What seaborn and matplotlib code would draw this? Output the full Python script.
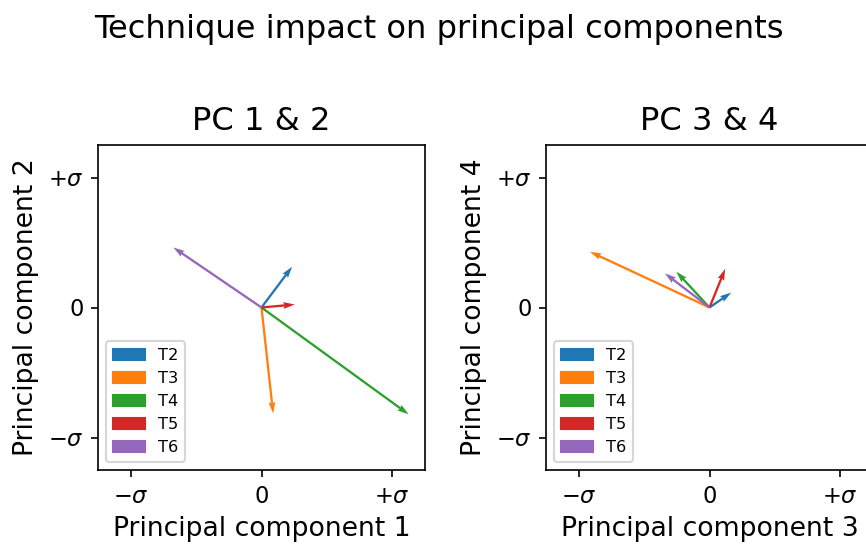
import matplotlib
matplotlib.use("Agg")
import matplotlib.pyplot as plt
import matplotlib.patches as mpatches
import seaborn as sns
import numpy as np

techniques = ["T2", "T3", "T4", "T5", "T6"]
# loadings in units of sigma
pc1 = [0.234, 0.089, 1.125, 0.254, -0.674]
pc2 = [0.314, -0.815, -0.822, 0.023, 0.462]
pc3 = [0.166, -0.914, -0.254, 0.120, -0.341]
pc4 = [0.115, 0.429, 0.276, 0.297, 0.263]
tick_vals = [-1, 0, 1]
tick_labels = [r"$-\sigma$", "0", r"$+\sigma$"]

colors = sns.color_palette("tab10", len(techniques))

fig = plt.figure(figsize=(866 / 150, 549 / 150), dpi=150)
fig.suptitle("Technique impact on principal components", fontsize=15.4,
             x=0.5064, y=0.975)

panels = [
    (pc1, pc2, "PC 1 & 2", "Principal component 1", "Principal component 2", 98),
    (pc3, pc4, "PC 3 & 4", "Principal component 3", "Principal component 4", 546),
]

for xs, ys, title, xl, yl, left_px in panels:
    ax = fig.add_axes([left_px / 866, (549 - 470) / 549, 327 / 866, 325 / 549])
    for i, t in enumerate(techniques):
        ax.quiver([0], [0], [xs[i]], [ys[i]], angles="xy", scale_units="xy",
                  scale=1, color=colors[i], width=0.007)
    ax.set_xlim(-1.25, 1.25)
    ax.set_ylim(-1.25, 1.25)
    ax.set_xticks(tick_vals)
    ax.set_xticklabels(tick_labels, fontsize=10.8)
    ax.set_yticks(tick_vals)
    ax.set_yticklabels(tick_labels, fontsize=10.8)
    ax.set_title(title, fontsize=15.4, pad=7)
    ax.set_xlabel(xl, fontsize=12.8)
    ax.set_ylabel(yl, fontsize=12.8)
    handles = [mpatches.Patch(color=colors[i], label=t) for i, t in enumerate(techniques)]
    ax.legend(handles=handles, loc="lower left", fontsize=7.8)

fig.savefig("out.png", dpi=150)
